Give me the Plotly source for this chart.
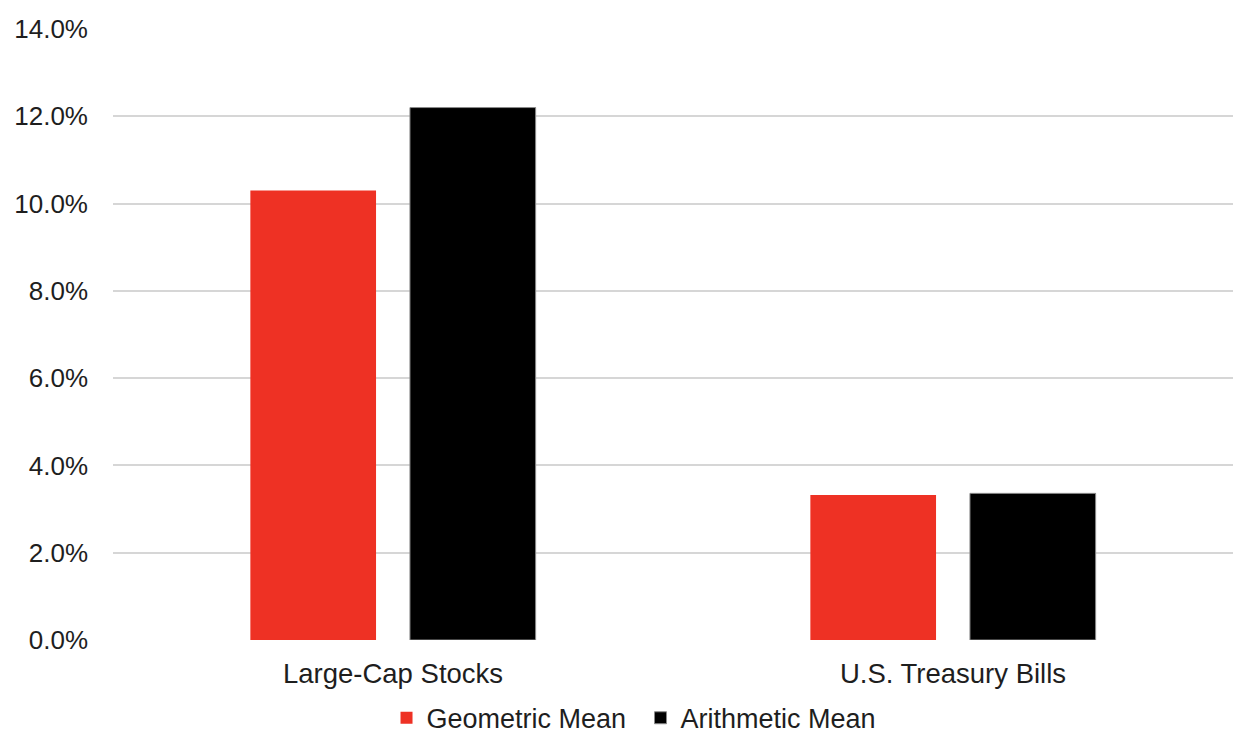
import plotly.graph_objects as go

categories = ["Large-Cap Stocks", "U.S. Treasury Bills"]
geometric_mean = [10.3, 3.32]
arithmetic_mean = [12.2, 3.36]
tick_values = [0, 2, 4, 6, 8, 10, 12, 14]
tick_labels = ["0.0%", "2.0%", "4.0%", "6.0%", "8.0%", "10.0%", "12.0%", "14.0%"]

font_family = "Liberation Sans, Arial, sans-serif"
text_color = "#1e1e1e"

fig = go.Figure()
fig.add_trace(go.Bar(
    name="Geometric Mean", x=categories, y=geometric_mean,
    marker=dict(color="#ee3124", line=dict(width=0)),
))
fig.add_trace(go.Bar(
    name="Arithmetic Mean", x=categories, y=arithmetic_mean,
    marker=dict(color="#000000", line=dict(color="#8a8a8a", width=1)),
))

fig.update_layout(
    width=1233, height=736,
    margin=dict(l=113, r=0, t=29, b=96, autoexpand=False),
    paper_bgcolor="white", plot_bgcolor="white",
    barmode="group", bargap=0.43, bargroupgap=0.2125,
    font=dict(family=font_family, size=26, color=text_color),
    showlegend=True,
    legend=dict(
        orientation="h", x=0.471, xanchor="center", y=-0.128, yanchor="middle",
        font=dict(size=27), itemwidth=30, traceorder="normal",
        entrywidth=209, bgcolor="rgba(0,0,0,0)",
    ),
    xaxis=dict(
        showgrid=False, showline=False, zeroline=False, ticks="",
        tickfont=dict(size=27.5), ticklabelstandoff=14,
    ),
    yaxis=dict(
        range=[0, 14], tickvals=tick_values, ticktext=tick_labels,
        showgrid=True, gridcolor="#d6d6d6", gridwidth=2,
        zeroline=False, showline=False, ticks="",
        ticklabelstandoff=24, tickfont=dict(size=26),
    ),
)

fig.write_html("out.html")
